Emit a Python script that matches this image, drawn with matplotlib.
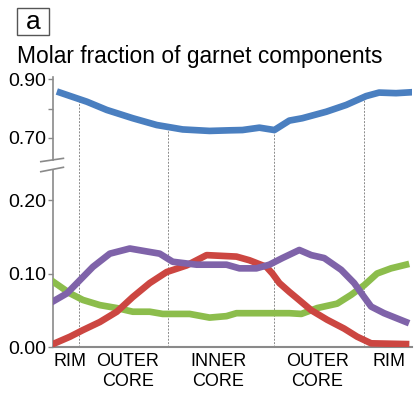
import numpy as np
import matplotlib
matplotlib.use("Agg")
import matplotlib.pyplot as plt
from matplotlib.patches import Rectangle

plt.rcParams['font.family'] = ['Liberation Sans', 'DejaVu Sans']

# profile position (arbitrary units, rim -> rim)
blue_x = [7, 34, 54, 80, 104, 130, 157, 177, 190, 207, 222, 237, 250, 274, 294, 314, 327, 344, 359]
blue_y = [0.854, 0.823, 0.795, 0.767, 0.744, 0.729, 0.724, 0.726, 0.727, 0.735, 0.727, 0.759, 0.767,
          0.789, 0.812, 0.842, 0.854, 0.852, 0.855]

red_x = [0, 17, 30, 47, 64, 80, 97, 114, 134, 154, 184, 197, 214, 220, 227, 237, 245, 259, 275,
         292, 305, 319, 354]
red_y = [0.004, 0.014, 0.023, 0.034, 0.048, 0.068, 0.087, 0.102, 0.111, 0.125, 0.123, 0.118, 0.109,
         0.100, 0.087, 0.075, 0.066, 0.050, 0.037, 0.025, 0.014, 0.005, 0.004]

green_x = [0, 17, 30, 47, 64, 80, 97, 110, 137, 157, 174, 184, 237, 249, 265, 285, 299, 312, 325,
           339, 354]
green_y = [0.089, 0.073, 0.064, 0.057, 0.053, 0.048, 0.048, 0.045, 0.045, 0.040, 0.042, 0.046, 0.046,
           0.045, 0.053, 0.059, 0.071, 0.084, 0.100, 0.107, 0.112]

purple_x = [0, 14, 27, 40, 57, 77, 94, 107, 120, 144, 174, 187, 204, 217, 230, 247, 259, 272, 289,
            302, 312, 319, 332, 354]
purple_y = [0.062, 0.073, 0.091, 0.109, 0.127, 0.134, 0.130, 0.127, 0.116, 0.112, 0.112, 0.107, 0.107,
            0.112, 0.121, 0.132, 0.125, 0.121, 0.105, 0.087, 0.068, 0.055, 0.046, 0.034]

zone_pos = [17, 75, 166, 265, 337]
zone_labels = ['RIM', 'OUTER\nCORE', 'INNER\nCORE', 'OUTER\nCORE', 'RIM']
boundaries = [26.5, 115, 221.5, 312]

axis_col = '#8a8a8a'
lw = 4.8

fig = plt.figure(figsize=(4.17, 4.0), dpi=100)
ax_top = fig.add_axes([0.1271, 0.6, 0.8609, 0.2075])
ax_bot = fig.add_axes([0.1271, 0.1325, 0.8609, 0.44375])

ax_top.set_ylim(0.6254, 0.9068)
ax_bot.set_ylim(0, 0.2415)
for ax in (ax_top, ax_bot):
    ax.set_xlim(0, 360)
    for s in ('top', 'right'):
        ax.spines[s].set_visible(False)
    ax.spines['left'].set_color(axis_col)
    ax.spines['left'].set_linewidth(1.2)
    ax.tick_params(axis='y', direction='out', length=3.5, width=1, color=axis_col,
                   labelsize=14, pad=1.5)
ax_top.spines['bottom'].set_visible(False)
ax_top.set_xticks([])
ax_bot.spines['bottom'].set_color(axis_col)
ax_bot.spines['bottom'].set_linewidth(1.5)

ax_top.set_yticks([0.70, 0.90])
ax_top.set_yticklabels(['0.70', '0.90'])
ax_top.set_yticks([0.80], minor=True)
ax_top.tick_params(axis='y', which='minor', length=3.5, width=1, color=axis_col)
ax_bot.set_yticks([0.0, 0.10, 0.20])
ax_bot.set_yticklabels(['0.00', '0.10', '0.20'])

ax_bot.set_xticks(zone_pos)
ax_bot.set_xticklabels(zone_labels, fontsize=13, linespacing=1.25)
ax_bot.tick_params(axis='x', length=0, pad=4)

# zone boundaries
dash = dict(color='#8a8a8a', lw=0.7, ls=(0, (2, 1.5)), zorder=1)
for b in boundaries:
    ax_bot.plot([b, b], [0, 0.2415 + 11 / 735], clip_on=False, **dash)
    ax_top.plot([b, b], [0.6254, np.interp(b, blue_x, blue_y)], **dash)

# profiles
ax_bot.plot(green_x, green_y, color='#8cbd4c', lw=lw, solid_joinstyle='round', zorder=3)
ax_bot.plot(red_x, red_y, color='#cc4641', lw=lw, solid_joinstyle='round', zorder=4)
ax_bot.plot(purple_x, purple_y, color='#7f63a9', lw=lw, solid_joinstyle='round', zorder=5)
ax_top.plot(blue_x, blue_y, color='#4a7fc0', lw=lw, solid_joinstyle='round', zorder=5)

# axis break marks
brk = dict(color=axis_col, lw=1.2, clip_on=False)
ax_top.plot([-0.034, 0.029], [-0.02, 0.02], transform=ax_top.transAxes, **brk)
ax_bot.plot([-0.034, 0.029], [0.9876, 1.0124], transform=ax_bot.transAxes, **brk)

fig.text(17 / 417, 1 - 63.5 / 400, 'Molar fraction of garnet components', fontsize=16.4,
         ha='left', va='baseline')

fig.patches.append(Rectangle((17 / 417, 1 - 35 / 400), 32 / 417, 27 / 400, transform=fig.transFigure,
                             fill=False, edgecolor='#555555', lw=1))
fig.text(33 / 417, 1 - 22 / 400, 'a', fontsize=19, ha='center', va='center')

fig.savefig('out.png', dpi=100)
